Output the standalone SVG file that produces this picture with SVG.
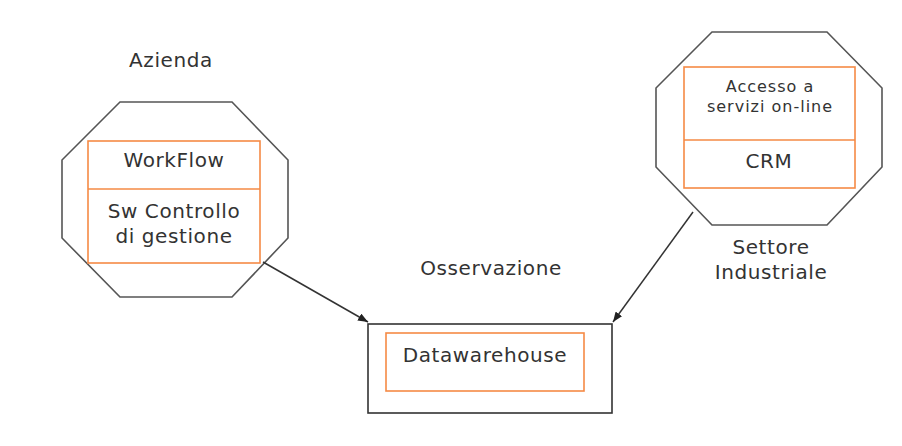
<svg xmlns="http://www.w3.org/2000/svg" width="902" height="446" viewBox="0 0 902 446">
<style>
.oct{fill:#fff;stroke:#555;stroke-width:1.6}
.box{fill:#fff;stroke:#f58a45;stroke-width:1.6}
.out{fill:#fff;stroke:#333;stroke-width:1.6}
.t{font-family:"DejaVu Sans",Verdana,sans-serif;font-size:20px;fill:#333;text-anchor:middle;letter-spacing:0.6px}
.s{font-family:"DejaVu Sans",Verdana,sans-serif;font-size:16px;fill:#333;text-anchor:middle;letter-spacing:1px}
.c{stroke:#333;stroke-width:1.5;fill:none}
</style>
<defs>
<marker id="ah" viewBox="0 0 10 8" refX="10" refY="4" markerWidth="10" markerHeight="8" markerUnits="userSpaceOnUse" orient="auto">
<path d="M0,0 L10,4 L0,8 Z" fill="#222"/>
</marker>
</defs>
<rect width="902" height="446" fill="#fff"/>
<g id="azienda">
<text class="t" x="171" y="67">Azienda</text>
<polygon class="oct" points="120,102 232,102 288,160 288,238 232,297 120,297 62,238 62,160"/>
<rect class="box" x="88" y="141" width="172" height="122"/>
<line x1="88" y1="189" x2="260" y2="189" stroke="#f58a45" stroke-width="1.6"/>
<text class="t" x="174" y="167">WorkFlow</text>
<text class="t" x="174" y="218">Sw Controllo</text>
<text class="t" x="174" y="243">di gestione</text>
</g>
<g id="settore">
<polygon class="oct" points="712,32 827,32 882,88 882,167 827,225 712,225 656,167 656,88"/>
<rect class="box" x="684" y="67" width="171" height="121"/>
<line x1="684" y1="140" x2="855" y2="140" stroke="#f58a45" stroke-width="1.6"/>
<text class="s" x="770" y="92">Accesso a</text>
<text class="s" x="770" y="112">servizi on-line</text>
<text class="t" x="769" y="168">CRM</text>
<text class="t" x="771" y="254">Settore</text>
<text class="t" x="771" y="279">Industriale</text>
</g>
<g id="osservazione">
<text class="t" x="491" y="275">Osservazione</text>
<rect class="out" x="368" y="324" width="244" height="89"/>
<rect class="box" x="386" y="333" width="198" height="58"/>
<text class="t" x="485" y="362">Datawarehouse</text>
</g>
<g id="connectors">
<line class="c" x1="263" y1="262" x2="368" y2="322" marker-end="url(#ah)"/>
<line class="c" x1="693" y1="212" x2="613" y2="322" marker-end="url(#ah)"/>
</g>
</svg>
